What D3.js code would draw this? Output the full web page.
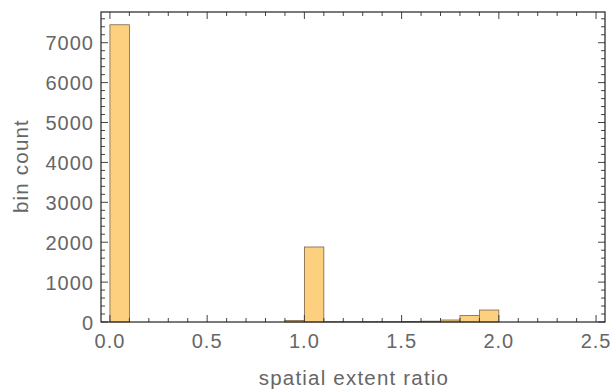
<!DOCTYPE html>
<html>
<head>
<meta charset="utf-8">
<script src="https://cdn.jsdelivr.net/npm/d3@7"></script>
<style>
  body { margin: 0; background: #fff; }
  text { font-family: "Liberation Sans", Arial, sans-serif; }
</style>
</head>
<body>
<svg id="chart"></svg>
<script>
// histogram bins (bin width 0.1) and counts
var binStarts = [0.0, 0.9, 1.0, 1.1, 1.2, 1.3, 1.4, 1.5, 1.6, 1.7, 1.8, 1.9]
var binCounts = [7450, 40, 1880, 8, 6, 10, 8, 15, 20, 50, 160, 300]
var binWidth = 0.1

var xTicks = [0, 0.5, 1, 1.5, 2, 2.5]
var yTicks = [0, 1000, 2000, 3000, 4000, 5000, 6000, 7000]

var W = 610, H = 390
var frame = { l: 101, r: 605, t: 12, b: 322 }

var svg = d3.select('#chart').attr('width', W).attr('height', H)

var x = d3.scaleLinear().domain([-0.046, 2.546]).range([frame.l, frame.r])
var y = d3.scaleLinear().domain([0, 7770]).range([frame.b, frame.t])

var data = binStarts.map((s, i) => ({ x0: s, x1: s + binWidth, n: binCounts[i] }))

svg.selectAll('rect.bar')
  .data(data)
  .join('rect')
  .attr('class', 'bar')
  .attr('x', d => x(d.x0))
  .attr('y', d => y(d.n))
  .attr('width', d => x(d.x1) - x(d.x0))
  .attr('height', d => y(0) - y(d.n))
  .attr('fill', '#fdd07f')
  .attr('stroke', '#7a6448')
  .attr('stroke-width', 0.8)

// minor tick values
var xMinor = d3.range(0, 26).map(i => i / 10).filter(v => Math.round(v * 10) % 5 !== 0)
var yMinor = d3.range(0, 39).map(i => i * 200).filter(v => v % 1000 !== 0)

var tickColor = '#444'
var g = svg.append('g')

// bottom / top ticks
function xTickLines(vals, len) {
  vals.forEach(v => {
    g.append('line').attr('x1', x(v)).attr('x2', x(v)).attr('y1', frame.b).attr('y2', frame.b - len)
      .attr('stroke', tickColor).attr('stroke-width', 1)
    g.append('line').attr('x1', x(v)).attr('x2', x(v)).attr('y1', frame.t).attr('y2', frame.t + len)
      .attr('stroke', tickColor).attr('stroke-width', 1)
  })
}
function yTickLines(vals, len) {
  vals.forEach(v => {
    g.append('line').attr('y1', y(v)).attr('y2', y(v)).attr('x1', frame.l).attr('x2', frame.l + len)
      .attr('stroke', tickColor).attr('stroke-width', 1)
    g.append('line').attr('y1', y(v)).attr('y2', y(v)).attr('x1', frame.r).attr('x2', frame.r - len)
      .attr('stroke', tickColor).attr('stroke-width', 1)
  })
}
xTickLines(xTicks, 7)
xTickLines(xMinor, 4)
yTickLines(yTicks, 7)
yTickLines(yMinor, 4)

// frame
svg.append('rect')
  .attr('x', frame.l).attr('y', frame.t)
  .attr('width', frame.r - frame.l).attr('height', frame.b - frame.t)
  .attr('fill', 'none').attr('stroke', '#222').attr('stroke-width', 1.2)

// tick labels
svg.append('g').selectAll('text')
  .data(xTicks)
  .join('text')
  .attr('x', d => x(d))
  .attr('y', frame.b + 26)
  .attr('text-anchor', 'middle')
  .attr('font-size', 20)
  .attr('letter-spacing', 1)
  .attr('fill', '#666')
  .text(d => d3.format('.1f')(d))

svg.append('g').selectAll('text')
  .data(yTicks)
  .join('text')
  .attr('x', frame.l - 7)
  .attr('y', d => y(d) + 7.5)
  .attr('text-anchor', 'end')
  .attr('font-size', 20)
  .attr('letter-spacing', 1)
  .attr('fill', '#666')
  .text(d => d)

// axis titles
svg.append('text')
  .attr('x', 354)
  .attr('y', 385)
  .attr('text-anchor', 'middle')
  .attr('font-size', 20.5)
  .attr('letter-spacing', 1.2)
  .attr('fill', '#666')
  .text('spatial extent ratio')

svg.append('text')
  .attr('transform', 'translate(28,' + 166 + ') rotate(-90)')
  .attr('text-anchor', 'middle')
  .attr('font-size', 20.5)
  .attr('letter-spacing', 1.2)
  .attr('fill', '#666')
  .text('bin count')
</script>
</body>
</html>
